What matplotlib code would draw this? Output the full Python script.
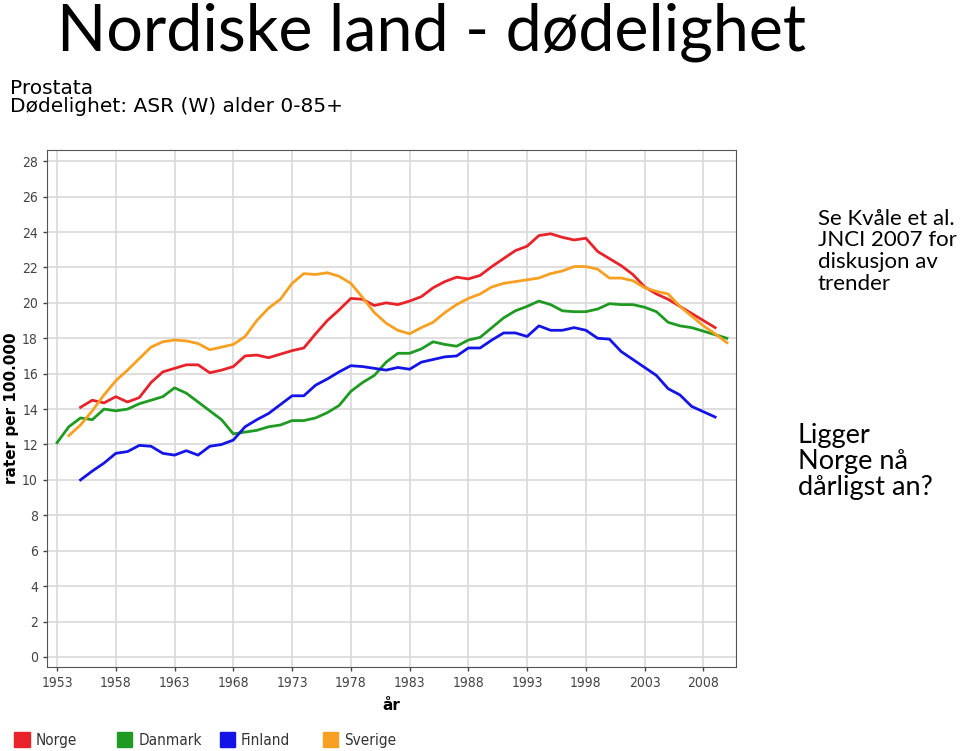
import numpy as np
import matplotlib.pyplot as plt
from matplotlib.patches import Rectangle

# ASR (W) prostata-dodelighet, rater per 100.000
norge_years = np.arange(1955, 2010)
norge = [14.1, 14.5, 14.35, 14.7, 14.4, 14.65, 15.5, 16.1, 16.3, 16.5,
         16.5, 16.05, 16.2, 16.4, 17.0, 17.05, 16.9, 17.1, 17.3, 17.45,
         18.25, 19.0, 19.6, 20.25, 20.2, 19.85, 20.0, 19.9, 20.1, 20.35,
         20.85, 21.2, 21.45, 21.35, 21.55, 22.05, 22.5, 22.95, 23.2, 23.8,
         23.9, 23.7, 23.55, 23.65, 22.9, 22.5, 22.1, 21.6, 20.9, 20.5,
         20.2, 19.8, 19.4, 19.0, 18.6]

danmark_years = np.arange(1953, 2011)
danmark = [12.1, 13.0, 13.5, 13.4, 14.0, 13.9, 14.0, 14.3, 14.5, 14.7,
           15.2, 14.9, 14.4, 13.9, 13.4, 12.6, 12.7, 12.8, 13.0, 13.1,
           13.35, 13.35, 13.5, 13.8, 14.2, 15.0, 15.5, 15.9, 16.65, 17.15,
           17.15, 17.4, 17.8, 17.65, 17.55, 17.9, 18.05, 18.6, 19.15, 19.55,
           19.8, 20.1, 19.9, 19.55, 19.5, 19.5, 19.65, 19.95, 19.9, 19.9,
           19.75, 19.5, 18.9, 18.7, 18.6, 18.4, 18.2, 18.0]

finland_years = np.arange(1955, 2010)
finland = [10.0, 10.5, 10.95, 11.5, 11.6, 11.95, 11.9, 11.5, 11.4, 11.65,
           11.4, 11.9, 12.0, 12.25, 13.0, 13.4, 13.75, 14.25, 14.75, 14.75,
           15.35, 15.7, 16.1, 16.45, 16.4, 16.3, 16.2, 16.35, 16.25, 16.65,
           16.8, 16.95, 17.0, 17.45, 17.45, 17.9, 18.3, 18.3, 18.1, 18.7,
           18.45, 18.45, 18.6, 18.45, 18.0, 17.95, 17.25, 16.8, 16.35, 15.9,
           15.15, 14.8, 14.15, 13.85, 13.55]

sverige_years = np.arange(1954, 2011)
sverige = [12.5, 13.1, 13.9, 14.8, 15.6, 16.2, 16.85, 17.5, 17.8, 17.9,
           17.85, 17.7, 17.35, 17.5, 17.65, 18.1, 19.0, 19.7, 20.2, 21.1,
           21.65, 21.6, 21.7, 21.5, 21.1, 20.3, 19.45, 18.85, 18.45, 18.25,
           18.6, 18.9, 19.45, 19.9, 20.25, 20.5, 20.9, 21.1, 21.2, 21.3,
           21.4, 21.65, 21.8, 22.05, 22.05, 21.9, 21.4, 21.4, 21.25, 20.85,
           20.65, 20.5, 19.8, 19.25, 18.7, 18.25, 17.75]

names = ['Norge', 'Danmark', 'Finland', 'Sverige']
colors = ['#e8232a', '#1f9a22', '#1414e6', '#f7a021']
series = [(norge_years, norge), (danmark_years, danmark),
          (finland_years, finland), (sverige_years, sverige)]

xticks = np.arange(1953, 2009, 5)
yticks = np.arange(0, 29, 2)

fig = plt.figure(figsize=(9.6, 7.51), dpi=100)
ax = fig.add_axes([0.049, 0.112, 0.718, 0.688])

for (yrs, vals), c in zip(series, colors):
    ax.plot(yrs, vals, color=c, lw=2.0)

ax.set_xlim(1952.15, 2010.8)
ax.set_ylim(-0.56, 28.62)
ax.set_xticks(xticks)
ax.set_yticks(yticks)
ax.grid(True, color='#d9d9d9', lw=1.2)
ax.set_axisbelow(True)
for s in ax.spines.values():
    s.set_color('#555555')
ax.tick_params(axis='both', labelsize=10, colors='#444444', length=3, width=1)
for lab in ax.get_xticklabels() + ax.get_yticklabels():
    lab.set_fontstretch('condensed')
ax.set_xlabel('år', fontsize=11, fontweight='bold', labelpad=6)
ax.set_ylabel('rater per 100.000', fontsize=11, fontweight='bold', labelpad=2)

fig.text(0.059, 0.997, 'Nordiske land - dødelighet', fontsize=46.5,
         family='Lato', va='top', ha='left')
fig.text(0.010, 0.895, 'Prostata\nDødelighet: ASR (W) alder 0-85+',
         fontsize=14.5, va='top', ha='left', linespacing=0.95)

fig.text(0.852, 0.722, 'Se Kvåle et al.\nJNCI 2007 for\ndiskusjon av\ntrender',
         fontsize=16, family='Lato', va='top', ha='left', linespacing=1.1)
fig.text(0.831, 0.437, 'Ligger\nNorge nå\ndårligst an?',
         fontsize=19.5, family='Lato', va='top', ha='left', linespacing=1.05)

# legend
for i, (n, c) in enumerate(zip(names, colors)):
    x0 = 0.015 + i * 0.107
    fig.patches.append(Rectangle((x0, 0.005), 0.016, 0.02, color=c,
                                 transform=fig.transFigure, figure=fig))
    fig.text(x0 + 0.022, 0.014, n, fontsize=11, va='center', ha='left',
             color='#333333', fontstretch='condensed')

fig.savefig('out.png', dpi=100)
